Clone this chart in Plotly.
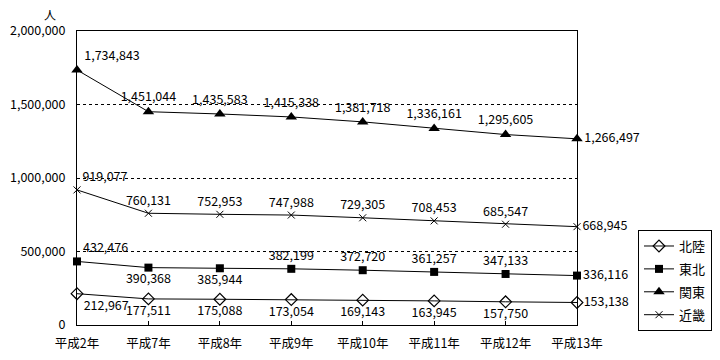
import plotly.graph_objects as go

categories = ["平成2年", "平成7年", "平成8年", "平成9年", "平成10年", "平成11年", "平成12年", "平成13年"]
hokuriku = [212967, 177511, 175088, 173054, 169143, 163945, 157750, 153138]
tohoku = [432476, 390368, 385944, 382199, 372720, 361257, 347133, 336116]
kanto = [1734843, 1451044, 1435583, 1415338, 1381718, 1336161, 1295605, 1266497]
kinki = [919077, 760131, 752953, 747988, 729305, 708453, 685547, 668945]
series_names = ["北陸", "東北", "関東", "近畿"]
y_tickvals = [0, 500000, 1000000, 1500000, 2000000]
y_ticktext = ["0", "500,000", "1,000,000", "1,500,000", "2,000,000"]

FONT = "MS Gothic, Noto Sans CJK JP, sans-serif"

styles = [
    dict(symbol="diamond-open", size=9, color="black", lw=1.2,
         pos=["bottom right"] + ["bottom center"] * 6 + ["middle right"]),
    dict(symbol="square", size=8, color="black", lw=0,
         pos=["top right", "bottom center", "bottom center"] + ["top center"] * 4 + ["middle right"]),
    dict(symbol="triangle-up", size=10, color="black", lw=0,
         pos=["top right"] + ["top center"] * 6 + ["middle right"]),
    dict(symbol="x-thin-open", size=7, color="black", lw=1,
         pos=["top right"] + ["top center"] * 6 + ["middle right"]),
]

fig = go.Figure()
for name, vals, st in zip(series_names, [hokuriku, tohoku, kanto, kinki], styles):
    fig.add_trace(go.Scatter(
        x=categories, y=vals, name=name, mode="lines+markers+text",
        line=dict(color="black", width=1),
        marker=dict(symbol=st["symbol"], size=st["size"], color=st["color"],
                    line=dict(color="black", width=st["lw"])),
        text=[f"{v:,}" for v in vals], textposition=st["pos"],
        textfont=dict(family=FONT, size=12.5, color="black"),
        legendgroup=name, cliponaxis=False,
    ))

fig.update_layout(
    width=704, height=344,
    margin=dict(l=69, r=135, t=23, b=27, autoexpand=False),
    paper_bgcolor="white", plot_bgcolor="white",
    font=dict(family=FONT, size=12.5, color="black"),
    showlegend=True,
    legend=dict(x=1.122, y=0.323, xanchor="left", yanchor="top",
                bordercolor="black", borderwidth=1, bgcolor="white",
                traceorder="grouped", tracegroupgap=3, itemwidth=30,
                font=dict(family=FONT, size=13, color="black")),
    xaxis=dict(type="category", range=[0, 7], showline=True, linecolor="black", linewidth=1,
               mirror=True, ticks="inside", ticklen=4, tickcolor="black",
               showgrid=False, zeroline=False, automargin=False, ticklabelstandoff=7),
    yaxis=dict(range=[0, 2000000], tickvals=y_tickvals, ticktext=y_ticktext,
               showline=True, linecolor="black", linewidth=1, mirror=True,
               showgrid=True, gridcolor="black", griddash="dot", gridwidth=1,
               zeroline=False, ticks="", ticklabelstandoff=8, automargin=False),
    annotations=[dict(text="人", xref="paper", yref="paper", x=-0.054, y=1.0,
                      xanchor="center", yanchor="bottom", yshift=6, showarrow=False,
                      font=dict(family=FONT, size=12, color="black"))],
)

fig.write_html("out.html")
